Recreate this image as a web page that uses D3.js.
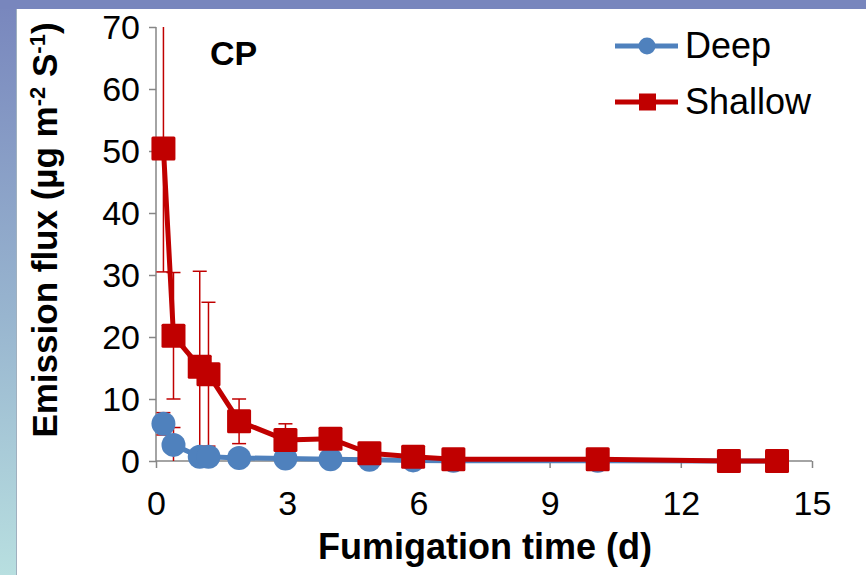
<!DOCTYPE html>
<html>
<head>
<meta charset="utf-8">
<script src="https://cdn.jsdelivr.net/npm/d3@7"></script>
<style>
  html, body { margin: 0; padding: 0; background: #fff; }
  svg { display: block; }
  text { font-family: "Liberation Sans", Arial, sans-serif; }
</style>
</head>
<body>
<svg id="chart" width="866" height="575"></svg>
<script>
// ---- Data ----
const times = [0.17, 0.4, 1.0, 1.2, 1.9, 2.96, 3.99, 4.88, 5.88, 6.8, 10.1, 13.1, 14.2];
const deepValues = [6.0, 2.6, 0.7, 0.7, 0.5, 0.4, 0.3, 0.2, 0.1, 0.05, 0.05, 0.0, 0.0];
const deepErrors = [1.8, 2.8, 0, 0, 0, 0, 0, 0, 0, 0, 0, 0, 0];
const shallowValues = [50.4, 20.2, 15.2, 14.0, 6.4, 3.4, 3.6, 1.25, 0.7, 0.3, 0.3, 0.0, 0.0];
const shallowErrors = [19.9, 10.2, 15.4, 11.6, 3.6, 2.6, 0.4, 0.3, 0.2, 0.1, 0.1, 0, 0];
const xTickValues = [0, 3, 6, 9, 12, 15];
const yTickValues = [0, 10, 20, 30, 40, 50, 60, 70];
const seriesNames = ["Deep", "Shallow"];
const panelLabel = "CP";

// ---- Layout ----
const W = 866, H = 575;
const plot = { left: 156, right: 812, top: 27, bottom: 461 };
const colDeep = "#4F81BD", colShallow = "#C00000", axisCol = "#868686";

const svg = d3.select("#chart");

// Background frame
const defs = svg.append("defs");
const grad = defs.append("linearGradient").attr("id", "sideGrad")
  .attr("x1", 0).attr("y1", 0).attr("x2", 0).attr("y2", 1);
grad.append("stop").attr("offset", "0%").attr("stop-color", "#7886bd");
grad.append("stop").attr("offset", "55%").attr("stop-color", "#98b5cf");
grad.append("stop").attr("offset", "100%").attr("stop-color", "#b8dfe0");
svg.append("rect").attr("x", 0).attr("y", 0).attr("width", W).attr("height", H).attr("fill", "#fff");
svg.append("rect").attr("x", 0).attr("y", 0).attr("width", 17).attr("height", H).attr("fill", "url(#sideGrad)");
svg.append("rect").attr("x", 0).attr("y", 0).attr("width", W).attr("height", 9).attr("fill", "#7886bd");
svg.append("line").attr("x1", 16.5).attr("x2", 16.5).attr("y1", 9).attr("y2", H)
  .attr("stroke", "#9fb0bf").attr("stroke-width", 1);

defs.append("clipPath").attr("id", "plotClip").append("rect")
  .attr("x", plot.left - 40).attr("y", plot.top).attr("width", plot.right - plot.left + 80)
  .attr("height", plot.bottom - plot.top);

// Scales
const x = d3.scaleLinear().domain([0, 15]).range([plot.left, plot.right]);
const y = d3.scaleLinear().domain([0, 70]).range([plot.bottom, plot.top]);

// Axes
const xAxis = d3.axisBottom(x).tickValues(xTickValues).tickSize(7).tickPadding(8).tickFormat(d3.format("d"));
const yAxis = d3.axisLeft(y).tickValues(yTickValues).tickSize(7).tickPadding(9).tickFormat(d3.format("d"));

const gx = svg.append("g").attr("transform", `translate(0,${plot.bottom})`).call(xAxis);
const gy = svg.append("g").attr("transform", `translate(${plot.left},0)`).call(yAxis);
[gx, gy].forEach(g => {
  g.select(".domain").attr("stroke", axisCol).attr("stroke-width", 1.5);
  g.selectAll(".tick line").attr("stroke", axisCol).attr("stroke-width", 1.5);
  g.selectAll(".tick text").attr("fill", "#000").style("font-size", "34px")
    .style("font-family", '"Liberation Sans", Arial, sans-serif');
});
gx.select(".domain").attr("d", `M${plot.left},0H${plot.right}`);
gy.select(".domain").attr("d", `M0,${plot.bottom}V${plot.top}`);
gx.selectAll(".tick text").attr("dy", null).attr("y", 54);
gy.selectAll(".tick text").attr("dy", "0.35em");

// Error bars (drawn first)
const eb = svg.append("g").attr("clip-path", "url(#plotClip)");
function drawErrors(vals, errs) {
  const cap = 7;
  vals.forEach((v, i) => {
    const e = errs[i];
    if (!e) return;
    const cx = x(times[i]);
    const y1 = y(v + e), y0 = y(v - e);
    eb.append("line").attr("x1", cx).attr("x2", cx).attr("y1", y1).attr("y2", y0)
      .attr("stroke", colShallow).attr("stroke-width", 1.5);
    [y1, y0].forEach(yy => {
      eb.append("line").attr("x1", cx - cap).attr("x2", cx + cap).attr("y1", yy).attr("y2", yy)
        .attr("stroke", colShallow).attr("stroke-width", 1.5);
    });
  });
}
drawErrors(shallowValues, shallowErrors);
drawErrors(deepValues, deepErrors);

// Lines
const line = d3.line().x((d, i) => x(times[i])).y(d => y(d));
svg.append("path").datum(deepValues).attr("d", line).attr("fill", "none")
  .attr("stroke", colDeep).attr("stroke-width", 5).attr("stroke-linejoin", "round");
svg.append("g").selectAll("circle").data(deepValues).join("circle")
  .attr("cx", (d, i) => x(times[i])).attr("cy", d => y(d)).attr("r", 12).attr("fill", colDeep);

svg.append("path").datum(shallowValues).attr("d", line).attr("fill", "none")
  .attr("stroke", colShallow).attr("stroke-width", 5).attr("stroke-linejoin", "round");
svg.append("g").selectAll("rect").data(shallowValues).join("rect")
  .attr("x", (d, i) => x(times[i]) - 12).attr("y", d => y(d) - 12)
  .attr("width", 24).attr("height", 24).attr("rx", 1.5).attr("fill", colShallow);

// Panel label
svg.append("text").attr("x", 210).attr("y", 65).text(panelLabel)
  .style("font-size", "34px").style("font-weight", "bold");

// Axis titles
svg.append("text").attr("x", 485).attr("y", 559)
  .attr("text-anchor", "middle").style("font-size", "36px").style("font-weight", "bold")
  .text("Fumigation time (d)");

const yt = svg.append("text").attr("transform", "translate(57,230) rotate(-90)")
  .attr("text-anchor", "middle").style("font-size", "35px").style("font-weight", "bold");
yt.append("tspan").text("Emission flux (\u00B5g m");
yt.append("tspan").attr("dy", -12).style("font-size", "22px").text("-2");
yt.append("tspan").attr("dy", 12).text(" S");
yt.append("tspan").attr("dy", -12).style("font-size", "22px").text("-1");
yt.append("tspan").attr("dy", 12).text(")");

// Legend
const lg = svg.append("g");
const legendRows = [{ name: seriesNames[0], col: colDeep, y: 46, shape: "circle" },
                    { name: seriesNames[1], col: colShallow, y: 102, shape: "square" }];
legendRows.forEach(r => {
  lg.append("line").attr("x1", 615).attr("x2", 678).attr("y1", r.y).attr("y2", r.y)
    .attr("stroke", r.col).attr("stroke-width", 5);
  if (r.shape === "circle") {
    lg.append("circle").attr("cx", 647).attr("cy", r.y).attr("r", 8.5).attr("fill", r.col);
  } else {
    lg.append("rect").attr("x", 639).attr("y", r.y - 8.5).attr("width", 17).attr("height", 17).attr("fill", r.col);
  }
  lg.append("text").attr("x", 685).attr("y", r.y + 12).text(r.name).style("font-size", "36px");
});
</script>
</body>
</html>
